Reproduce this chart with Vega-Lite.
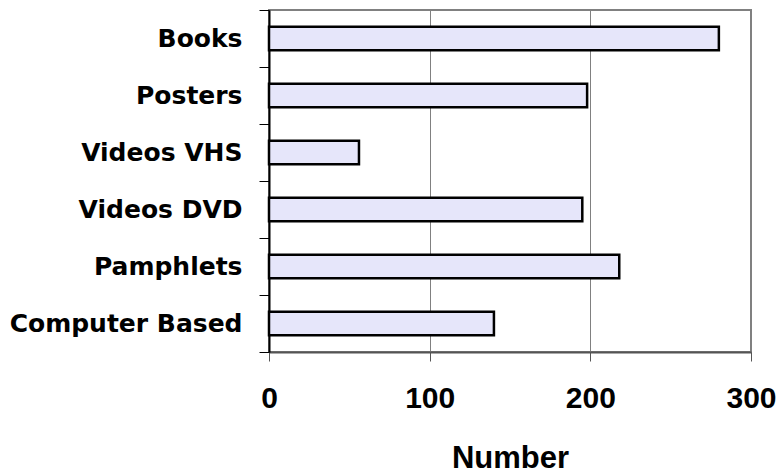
{
  "$schema": "https://vega.github.io/schema/vega-lite/v6.json",
  "autosize": {"type": "none"},
  "width": 482,
  "height": 342,
  "padding": {"left": 269, "top": 10, "right": 29, "bottom": 123},
  "background": "white",
  "data": {
    "values": [
      {"category": "Books", "value": 280},
      {"category": "Posters", "value": 198},
      {"category": "Videos VHS", "value": 56},
      {"category": "Videos DVD", "value": 195},
      {"category": "Pamphlets", "value": 218},
      {"category": "Computer Based", "value": 140}
    ]
  },
  "mark": {"type": "bar", "fill": "#e6e6fa", "stroke": "#000000", "strokeWidth": 2.5, "height": {"band": 0.41}},
  "encoding": {
    "y": {
      "field": "category",
      "type": "nominal",
      "sort": null,
      "scale": {"paddingInner": 0, "paddingOuter": 0},
      "axis": {
        "title": null,
        "tickBand": "extent",
        "tickSize": 10,
        "tickColor": "#000000",
        "tickWidth": 1,
        "domainColor": "#000000",
        "domainWidth": 2,
        "labelFont": "DejaVu Sans",
        "labelFontWeight": "bold",
        "labelFontSize": 25,
        "labelLimit": 400,
        "labelColor": "#000000",
        "labelPadding": 17,
        "grid": false
      }
    },
    "x": {
      "field": "value",
      "type": "quantitative",
      "scale": {"domain": [0, 300], "nice": false},
      "axis": {
        "title": "Number",
        "values": [0, 100, 200, 300],
        "tickSize": 9,
        "tickColor": "#555555",
        "domainColor": "#555555",
        "domainWidth": 2,
        "grid": true,
        "gridColor": "#808080",
        "gridWidth": 1,
        "labelFont": "Liberation Sans",
        "labelFontWeight": "bold",
        "labelFontSize": 30,
        "labelColor": "#000000",
        "labelPadding": 22,
        "labelFlush": false,
        "titleFont": "Liberation Sans",
        "titleFontWeight": "bold",
        "titleFontSize": 31,
        "titleColor": "#000000",
        "titlePadding": 30
      }
    }
  },
  "config": {
    "view": {"stroke": "#808080", "strokeWidth": 2}
  }
}
